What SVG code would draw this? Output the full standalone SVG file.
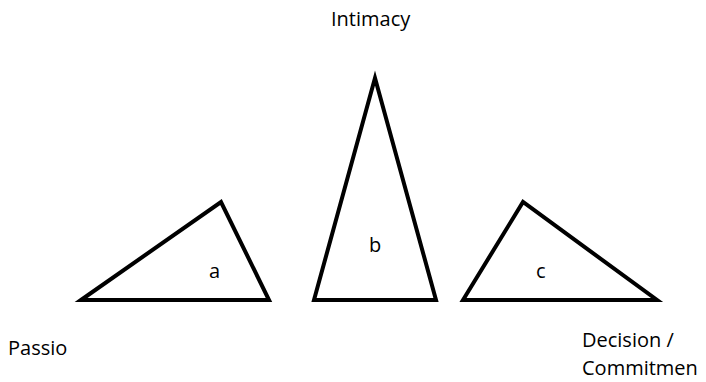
<svg xmlns="http://www.w3.org/2000/svg" width="706" height="382" viewBox="0 0 706 382">
<style>
.tri{fill:#fff;stroke:#000;stroke-width:4;stroke-linejoin:miter}
text{font-family:"Open Sans","Liberation Sans",sans-serif;font-size:20px;fill:#000}
</style>
<rect width="706" height="382" fill="#fff"/>
<g id="triangle-a">
<polygon class="tri" points="81,300 221,202 269,300"/>
<text x="209" y="278">a</text>
</g>
<g id="triangle-b">
<polygon class="tri" points="375,78 314,300 436,300"/>
<text x="369" y="252">b</text>
</g>
<g id="triangle-c">
<polygon class="tri" points="463,300 523,202 657,300"/>
<text x="536" y="278">c</text>
</g>
<g id="labels">
<text x="331" y="26">Intimacy</text>
<text x="8" y="355">Passio</text>
<text x="582" y="347">Decision /</text>
<text x="582" y="375">Commitmen</text>
</g>
<g id="connectors"/>
</svg>
